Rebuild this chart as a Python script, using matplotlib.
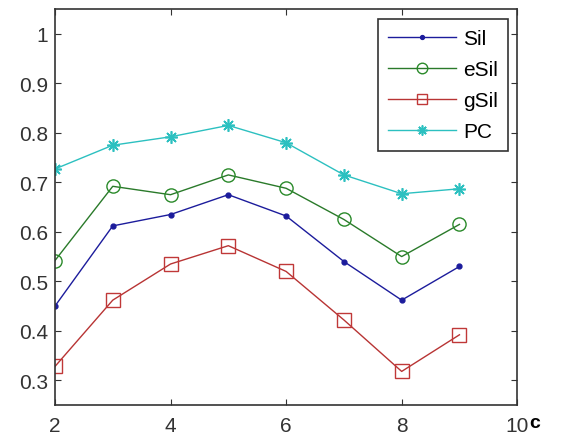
import matplotlib
matplotlib.use("Agg")
import matplotlib.pyplot as plt

c = [2, 3, 4, 5, 6, 7, 8, 9]
sil  = [0.450, 0.612, 0.635, 0.675, 0.632, 0.540, 0.462, 0.530]
esil = [0.542, 0.692, 0.675, 0.715, 0.688, 0.625, 0.550, 0.615]
gsil = [0.328, 0.462, 0.535, 0.572, 0.520, 0.422, 0.318, 0.392]
pc   = [0.727, 0.775, 0.792, 0.815, 0.780, 0.715, 0.677, 0.687]

plt.rcParams['font.family'] = ['Liberation Sans', 'DejaVu Sans']

fig = plt.figure(figsize=(5.61, 4.39), dpi=100)
ax = fig.add_axes([0.098, 0.075, 0.824, 0.902])

ax.plot(c, sil, color='#1c1c9c', marker='.', markersize=7, linewidth=1, label='Sil')
ax.plot(c, esil, color='#2a7a2a', marker='o', markersize=9.5, markerfacecolor='none',
        markeredgecolor='#2a8a2a', linewidth=1, label='eSil')
ax.plot(c, gsil, color='#b83434', marker='s', markersize=9.5, markerfacecolor='none',
        markeredgecolor='#c03838', linewidth=1, label='gSil')
ax.plot(c, pc, color='#2cc0c0', marker=(8, 2, 0), markersize=9, markeredgewidth=1.2,
        linewidth=1, label='PC')

ax.set_xlim(2, 10)
ax.set_ylim(0.25, 1.05)
ax.set_xticks([2, 4, 6, 8, 10])
ax.set_yticks([0.3, 0.4, 0.5, 0.6, 0.7, 0.8, 0.9, 1.0])
ax.set_yticklabels(['0.3', '0.4', '0.5', '0.6', '0.7', '0.8', '0.9', '1'])
ax.tick_params(direction='in', top=True, right=True, length=4, labelsize=15, colors='#333333')
ax.tick_params(axis='x', pad=8)
ax.tick_params(axis='y', pad=5)
for s in ax.spines.values():
    s.set_linewidth(1.2)
    s.set_color('#333333')

ax.text(1.025, -0.045, 'c', transform=ax.transAxes, fontsize=14, fontweight='bold',
        ha='left', va='center')

leg = ax.legend(loc='upper right', fontsize=15, fancybox=False, framealpha=1,
                edgecolor='#333333', handlelength=3.3, borderpad=0.48,
                labelspacing=0.58, handletextpad=0.34, borderaxespad=0,
                bbox_to_anchor=(0.9805, 0.975), markerscale=0.8)
leg.get_frame().set_linewidth(1.2)

fig.savefig('out.png', dpi=100)
